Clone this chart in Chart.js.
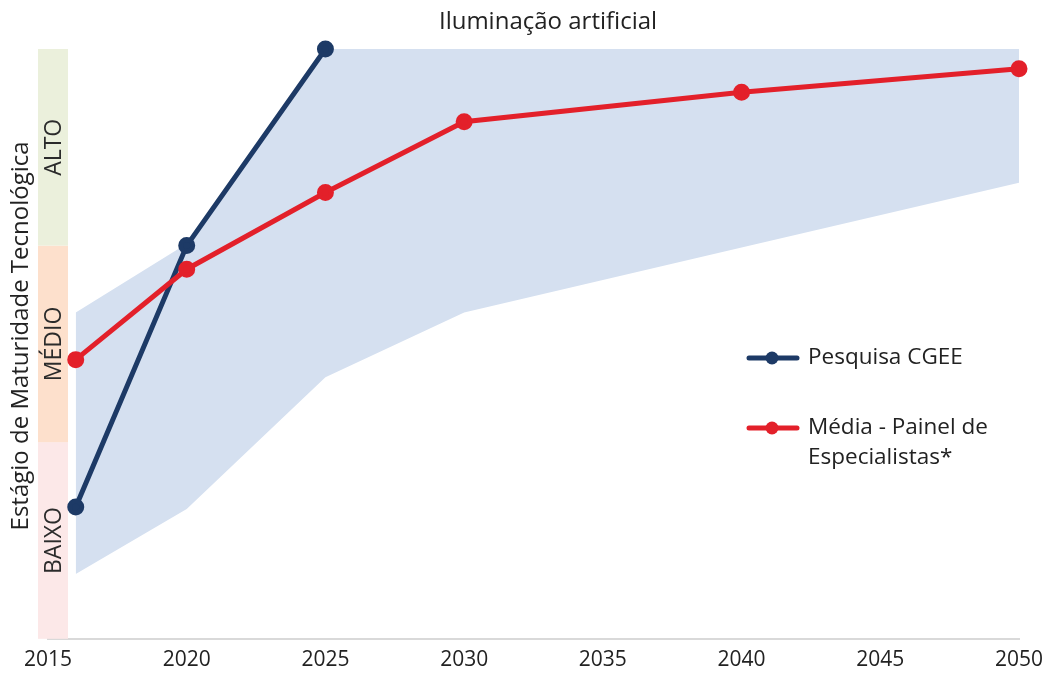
<!DOCTYPE html>
<html>
<head>
<meta charset="utf-8">
<script src="https://cdn.jsdelivr.net/npm/chart.js@4.4.0/dist/chart.umd.min.js"></script>
<style>
  html, body { margin: 0; padding: 0; background: #fff; }
  #wrap { width: 1045px; height: 674px; }
</style>
</head>
<body>
<div id="wrap"><canvas id="chart" width="1045" height="674"></canvas></div>
<script>
// ---- dados ----
const anos = [2016, 2020, 2025, 2030, 2040, 2050];
const pesquisaCGEE = [0.67, 2.0, 3.0];            // 2016, 2020, 2025
const mediaPainel = [1.42, 1.88, 2.27, 2.63, 2.78, 2.90];
const faixaSuperior = [1.66, 2.01, 3.0, 3.0, 3.0, 3.0];
const faixaInferior = [0.33, 0.66, 1.33, 1.66, 1.99, 2.32];
const niveis = ['BAIXO', 'MÉDIO', 'ALTO'];
const tituloEixoY = 'Estágio de Maturidade Tecnológica';
const tituloGrafico = 'Iluminação artificial';

const FONTE = "'Open Sans', sans-serif";

function pontos(valores) {
  return valores.map((v, i) => ({ x: anos[i], y: v }));
}

// faixas de maturidade na lateral esquerda + titulos
const faixasPlugin = {
  id: 'faixas',
  beforeDatasetsDraw(chart) {
    const { ctx, chartArea, scales } = chart;
    const cores = ['#fce8e8', '#fde0cc', '#ebf0dc'];
    const x0 = chartArea.left - 10, w = 30;
    ctx.save();
    niveis.forEach((nome, i) => {
      const yTop = scales.y.getPixelForValue(i + 1);
      const yBot = scales.y.getPixelForValue(i);
      ctx.fillStyle = cores[i];
      ctx.fillRect(x0, yTop, w, yBot - yTop);
      ctx.save();
      ctx.translate(x0 + w / 2, (yTop + yBot) / 2);
      ctx.rotate(-Math.PI / 2);
      ctx.fillStyle = '#2b2b2b';
      ctx.font = '23px ' + FONTE;
      ctx.textAlign = 'center';
      ctx.textBaseline = 'middle';
      ctx.fillText(nome, 0, 1);
      ctx.restore();
    });
    // titulo do grafico
    ctx.fillStyle = '#222';
    ctx.font = '24px ' + FONTE;
    ctx.textAlign = 'center';
    ctx.textBaseline = 'middle';
    ctx.fillText(tituloGrafico, 548, 22);
    // titulo do eixo y
    ctx.translate(21, (chartArea.top + chartArea.bottom) / 2 - 8);
    ctx.rotate(-Math.PI / 2);
    ctx.fillText(tituloEixoY, 0, 0);
    ctx.restore();
  }
};

// legenda desenhada dentro da área do gráfico
const legendaPlugin = {
  id: 'legendaInterna',
  afterDraw(chart) {
    const { ctx } = chart;
    const itens = [
      { ds: chart.data.datasets[2], y: 358, linhas: ['Pesquisa CGEE'] },
      { ds: chart.data.datasets[3], y: 428, linhas: ['Média - Painel de', 'Especialistas*'] }
    ];
    ctx.save();
    itens.forEach(it => {
      ctx.strokeStyle = it.ds.borderColor;
      ctx.lineWidth = 5;
      ctx.lineCap = 'round';
      ctx.beginPath();
      ctx.moveTo(749, it.y);
      ctx.lineTo(797, it.y);
      ctx.stroke();
      ctx.fillStyle = it.ds.borderColor;
      ctx.beginPath();
      ctx.arc(772, it.y, 6.5, 0, Math.PI * 2);
      ctx.fill();
      ctx.fillStyle = '#222';
      ctx.font = '22.5px ' + FONTE;
      ctx.textBaseline = 'middle';
      it.linhas.forEach((t, k) => ctx.fillText(t, 808, it.y + k * 30));
    });
    ctx.restore();
  }
};

new Chart(document.getElementById('chart').getContext('2d'), {
  type: 'line',
  data: {
    datasets: [
      { label: 'inferior', data: pontos(faixaInferior), borderWidth: 0, pointRadius: 0, fill: false, order: 5 },
      { label: 'superior', data: pontos(faixaSuperior), borderWidth: 0, pointRadius: 0,
        fill: '-1', backgroundColor: '#d5e0f0', order: 4 },
      { label: 'Pesquisa CGEE', data: pontos(pesquisaCGEE), borderColor: '#1d3a66', backgroundColor: '#1d3a66',
        borderWidth: 5, pointRadius: 6, pointHoverRadius: 6, fill: false, order: 2 },
      { label: 'Média - Painel de Especialistas*', data: pontos(mediaPainel), borderColor: '#e3202a', backgroundColor: '#e3202a',
        borderWidth: 5, pointRadius: 6, pointHoverRadius: 6, fill: false, order: 1 }
    ]
  },
  options: {
    responsive: false,
    animation: false,
    clip: false,
    layout: { padding: { left: 48, right: 26, top: 49, bottom: -8 } },
    plugins: {
      legend: { display: false },
      tooltip: { enabled: false },
      title: { display: false }
    },
    scales: {
      x: {
        type: 'linear',
        min: 2015, max: 2050,
        grid: { display: false, drawTicks: false },
        border: { color: '#d9d9d9', width: 2 },
        ticks: { stepSize: 5, color: '#222', font: { family: FONTE, size: 21 }, padding: 9,
                 callback: v => String(v) },
        afterFit(scale) { scale.paddingLeft = 0; scale.paddingRight = 0; }
      },
      y: { display: false, min: 0, max: 3 }
    }
  },
  plugins: [faixasPlugin, legendaPlugin]
});
</script>
</body>
</html>
